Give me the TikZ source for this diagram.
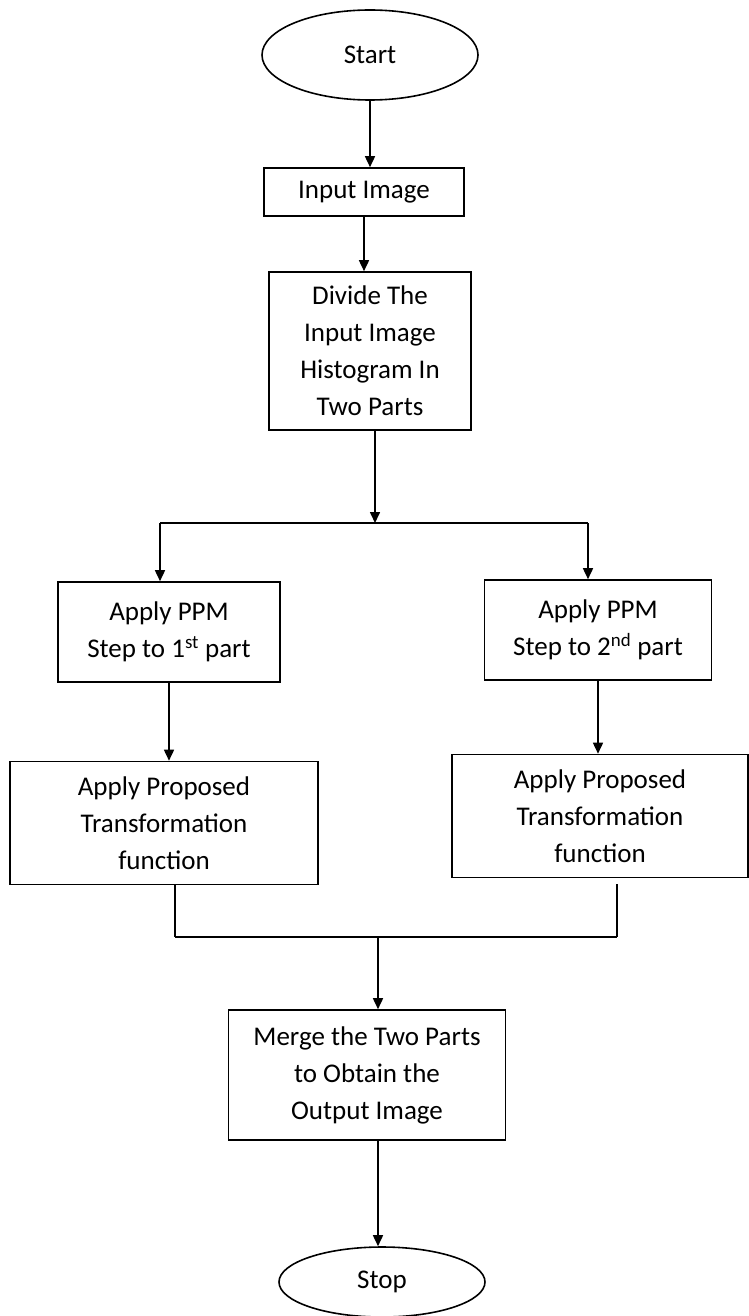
\documentclass[tikz,border=0pt]{standalone}
\usepackage{fontspec}
\setmainfont{Carlito}
\usetikzlibrary{arrows.meta,shapes.geometric}

\begin{document}
\begin{tikzpicture}
[x=1pt,y=1pt,line width=1.6pt,
every node/.style={draw,align=center,font=\fontsize{27}{37}\selectfont,inner sep=2pt},
stepbox/.style={rectangle},
term/.style={ellipse},
arr/.style={-{Triangle[length=11pt,width=10pt]}}]
\useasboundingbox (0,0) rectangle (748,-1316);
% terminals and process boxes
\node (start) [term,minimum width=216,minimum height=90] at (370,-55) {Start};
\node (input) [stepbox,minimum width=200,minimum height=48] at (364,-192) {Input Image};
\node (divide) [stepbox,minimum width=202,minimum height=158] at (370,-351)
{Divide The\\Input Image\\Histogram In\\Two Parts};
\node (ppmA) [stepbox,minimum width=222,minimum height=100] at (169,-632)
{Apply PPM\\Step to 1\textsuperscript{st} part};
\node (ppmB) [stepbox,minimum width=227,minimum height=100] at (598,-630)
{Apply PPM\\Step to 2\textsuperscript{nd} part};
\node (propA) [stepbox,minimum width=308,minimum height=123] at (164,-823)
{Apply Proposed\\Transformation\\function};
\node (propB) [stepbox,minimum width=296,minimum height=123] at (600,-816)
{Apply Proposed\\Transformation\\function};
\node (merge) [stepbox,minimum width=277,minimum height=130] at (367,-1075)
{Merge the Two Parts\\to Obtain the\\Output Image};
\node (stop) [term,minimum width=206,minimum height=70] at (382,-1282) {Stop};
% branch points
\coordinate (split) at (375,-523);
\coordinate (splitL) at (160,-523);
\coordinate (splitR) at (588,-523);
\coordinate (joinL) at (175,-937);
\coordinate (joinR) at (617,-937);
\coordinate (join) at (378,-937);
% connectors
\draw[arr] (start.south) -- (start.south |- input.north);
\draw[arr] (input.south) -- (input.south |- divide.north);
\draw[arr] (divide.south -| split) -- (split);
\draw (splitL) -- (splitR);
\draw[arr] (splitL) -- (splitL |- ppmA.north);
\draw[arr] (splitR) -- (splitR |- ppmB.north);
\draw[arr] (ppmA.south) -- (ppmA.south |- propA.north);
\draw[arr] (ppmB.south) -- (ppmB.south |- propB.north);
\draw (propA.south -| joinL) -- (joinL);
\draw ([yshift=-6pt]propB.south -| joinR) -- (joinR);
\draw (joinL) -- (joinR);
\draw[arr] (join) -- (join |- merge.north);
\draw[arr] (join |- merge.south) -- (join |- stop.north);
\end{tikzpicture}
\end{document}
